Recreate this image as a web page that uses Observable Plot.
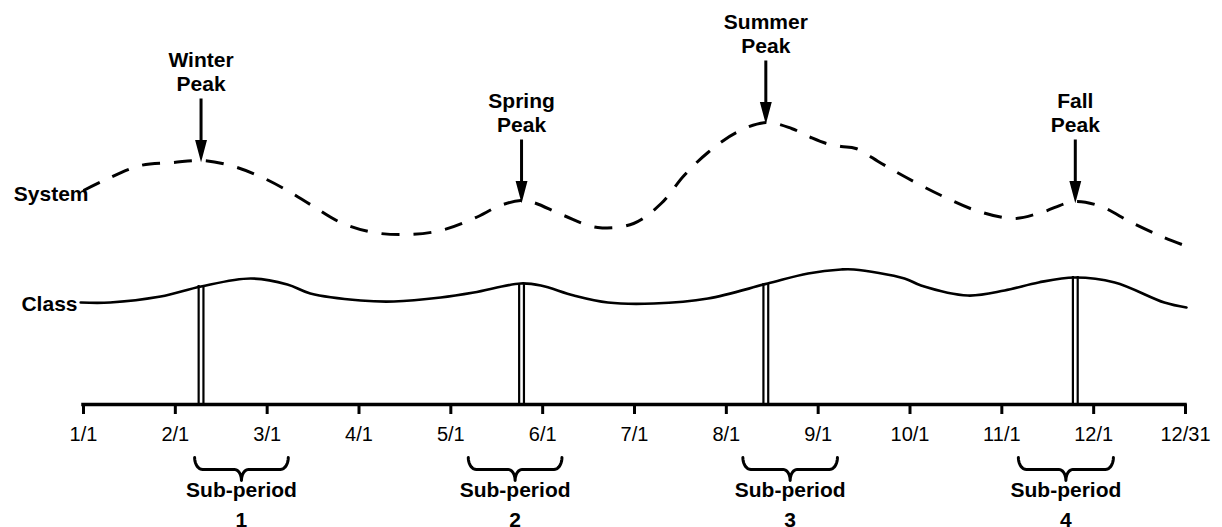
<!DOCTYPE html>
<html>
<head>
<meta charset="utf-8">
<script src="https://cdn.jsdelivr.net/npm/d3@7"></script>
<script src="https://cdn.jsdelivr.net/npm/@observablehq/plot@0.6"></script>
<style>
  html, body { margin: 0; padding: 0; background: #fff; }
  #chart svg { display: block; }
</style>
</head>
<body>
<div id="chart"></div>
<script>
// X axis: months evenly spaced, 0 = 1/1 ... 12 = 12/31
const monthTicks = [0, 1, 2, 3, 4, 5, 6, 7, 8, 9, 10, 11, 12];
const tickLabels = ["1/1", "2/1", "3/1", "4/1", "5/1", "6/1", "7/1", "8/1", "9/1", "10/1", "11/1", "12/1", "12/31"];

// System load (dashed curve), relative units
const systemMonth = [0.00, 0.22, 0.62, 0.98, 1.28, 1.60, 1.90, 2.22, 2.47, 2.80, 3.16, 3.53, 3.89, 4.25, 4.54, 4.76, 4.90, 5.23, 5.60, 5.99, 6.29, 6.54, 6.80, 7.11, 7.43, 7.71, 7.92, 8.09, 8.25, 8.41, 8.69, 8.96, 9.34, 9.72, 10.13, 10.43, 10.79, 11.08, 11.41, 11.74, 11.99];
const systemLoad  = [214, 224, 239, 242, 244, 239, 229, 214, 200, 182, 172, 170, 174, 186, 199, 204, 202, 189, 177, 181, 201, 229, 252, 272, 282, 276, 267, 261, 258, 256, 241, 227, 209, 194, 186, 192, 203, 198, 182, 168, 159];

// Class load (solid curve), relative units
const classMonth = [-0.03, 0.29, 0.84, 1.28, 1.82, 2.22, 2.47, 3.02, 3.38, 3.89, 4.25, 4.76, 4.98, 5.34, 5.71, 6.21, 6.80, 7.45, 7.89, 8.25, 8.39, 8.94, 9.12, 9.63, 10.03, 10.40, 10.79, 11.23, 11.77, 12.01];
const classLoad  = [102, 102, 108, 118, 126, 120, 111, 104, 103, 107, 112, 121, 119, 109, 102, 101, 106, 121, 131, 135, 135, 126, 119, 109, 114, 122, 127, 122, 102, 97];

// Seasonal peaks
const peakNames = ["Winter", "Spring", "Summer", "Fall"];
const peakMonth = [1.28, 4.77, 7.43, 10.80];
const peakSystemLoad = [244, 203, 282, 203];
const peakClassLoad = [119, 121, 121, 128];

// Sub-periods
const subStart = [1.21, 4.19, 7.18, 10.18];
const subEnd = [2.23, 5.21, 8.21, 11.215];
const subNumber = ["1", "2", "3", "4"];

// ---- build tables ----
const systemData = systemMonth.map((m, i) => ({month: m, load: systemLoad[i]}));
const classData = classMonth.map((m, i) => ({month: m, load: classLoad[i]}));
const peaks = peakNames.map((n, i) => ({
  label: n + "\nPeak", month: peakMonth[i], system: peakSystemLoad[i], cls: peakClassLoad[i]
}));
const subs = subNumber.map((n, i) => ({
  label: "Sub-period\n" + n, start: subStart[i], end: subEnd[i], mid: (subStart[i] + subEnd[i]) / 2, id: n
}));

// curly brace outline below the axis for each sub-period
const BR_TOP = -53, BR_MID = -65, BR_TIP = -76;
function arc(pts, cx, cy, rx, ry, a0, a1, id) {
  const n = 10;
  for (let k = 0; k <= n; k++) {
    const t = a0 + (a1 - a0) * k / n;
    pts.push({month: cx + rx * Math.cos(t), load: cy + ry * Math.sin(t), id});
  }
}
const braceData = [];
subs.forEach(s => {
  const rxE = 0.087, rxM = 0.076;
  const ryE = BR_TOP - BR_MID, ryM = BR_MID - BR_TIP;
  const pts = [];
  arc(pts, s.start + rxE, BR_TOP, rxE, ryE, Math.PI, 1.5 * Math.PI, s.id);
  arc(pts, s.mid - rxM, BR_TIP, rxM, ryM, 0.5 * Math.PI, 0, s.id);
  arc(pts, s.mid + rxM, BR_TIP, rxM, ryM, Math.PI, 0.5 * Math.PI, s.id);
  arc(pts, s.end - rxE, BR_TOP, rxE, ryE, 1.5 * Math.PI, 2 * Math.PI, s.id);
  braceData.push(...pts);
});

// arrow with filled head, drawn pointing "up" (vector convention)
const arrowShape = {
  draw(context, l) {
    const h = 15, w = 4;
    context.moveTo(0, 0);
    context.lineTo(0, -l + h);
    context.moveTo(0, -l);
    context.lineTo(-w, -l + h);
    context.lineTo(w, -l + h);
    context.closePath();
  }
};

const FONT = "'Liberation Sans', Arial, Helvetica, sans-serif";

const chart = Plot.plot({
  width: 1222,
  height: 527,
  marginLeft: 83,
  marginRight: 37,
  marginTop: 0,
  marginBottom: 123,
  x: {domain: [0, 12]},
  y: {domain: [0, 404], axis: null},
  style: {fontFamily: FONT, fontSize: "20px", background: "#fff", color: "#000", overflow: "visible"},
  marks: [
    // axis
    Plot.ruleY([0], {strokeWidth: 3.5, strokeLinecap: "square"}),
    Plot.axisX(monthTicks, {
      tickFormat: d => tickLabels[d], tickSize: 10, tickPadding: 12,
      strokeWidth: 3, fontSize: 20, label: null
    }),
    // system (dashed)
    Plot.line(systemData, {x: "month", y: "load", curve: "catmull-rom", strokeWidth: 3, strokeDasharray: "18,14", strokeLinecap: "butt"}),
    // class (solid)
    Plot.line(classData, {x: "month", y: "load", curve: "catmull-rom", strokeWidth: 2.7}),
    // double markers at class peaks
    Plot.ruleX(peaks, {x: "month", y1: 0, y2: "cls", strokeWidth: 2.2, dx: -2.4}),
    Plot.ruleX(peaks, {x: "month", y1: 0, y2: "cls", strokeWidth: 2.2, dx: 2.4}),
    // arrows
    Plot.vector(peaks, {x: "month", y: "system", length: 58, rotate: 180, anchor: "end", shape: arrowShape,
      stroke: "#000", fill: "#000", strokeWidth: 3, strokeLinecap: "butt", strokeLinejoin: "miter", dy: -4}),
    // peak labels
    Plot.text(peaks, {x: "month", y: "system", text: "label", lineAnchor: "bottom", lineHeight: 1.14,
      dy: -70, fontSize: 21, fontWeight: "bold"}),
    // series labels
    Plot.text([systemData[0]], {x: "month", y: "load", text: () => "System", textAnchor: "end", dx: 5, dy: 4,
      fontSize: 21, fontWeight: "bold"}),
    Plot.text([classData[0]], {x: 0, y: "load", text: () => "Class", textAnchor: "end", dx: -6, dy: 2,
      fontSize: 21, fontWeight: "bold"}),
    // braces
    Plot.line(braceData, {x: "month", y: "load", z: "id", curve: "linear", strokeWidth: 3}),
    Plot.text(subs, {x: "mid", y: -122, text: "label", lineAnchor: "bottom", lineHeight: 1.4,
      fontSize: 21, fontWeight: "bold"})
  ]
});
document.getElementById("chart").appendChild(chart);
</script>
</body>
</html>
